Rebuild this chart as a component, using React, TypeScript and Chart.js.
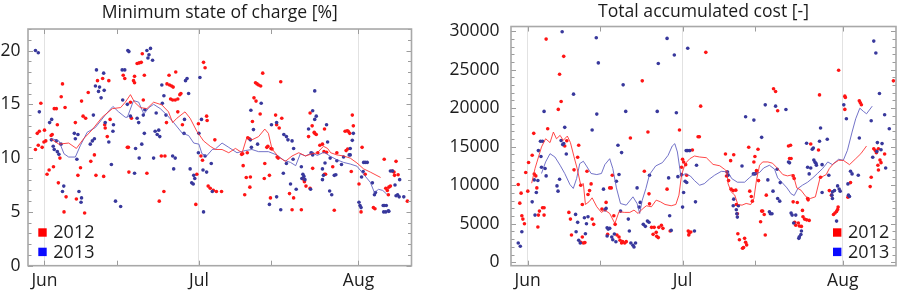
import React, { useEffect, useRef } from "react";
import { Chart, registerables } from "chart.js";

Chart.register(...registerables);

// ---------- shared axis data ----------
const dayRange = [-3.2, 71.3];
const monthTickDays = [0, 30, 61];
const monthLabels = ["Jun", "Jul", "Aug"];
const frameTickDays = [0, 14, 30, 44, 61];
const seriesLabels = ["2012", "2013"];
const socTicks = [0, 5, 10, 15, 20];
const costTicks = [0, 5000, 10000, 15000, 20000, 25000, 30000];

// ---------- Minimum state of charge [%]  (day offset from 1 Jun, value) ----------
const soc2012: [number, number][] = [
  [-1.75, 10.8], [-1.4, 12.3], [-1.0, 12.5], [-1.2, 11.2], [-0.7, 15.1], [-0.45, 11.0], [-0.1, 11.5], [0, 12.6], [0.25, 11.6], [0.5, 8.5],
  [0.9, 8.9], [1.3, 12.1], [1.5, 12.2], [1.75, 9.2], [1.9, 14.6], [2.3, 14.6], [2.5, 13.1], [2.7, 7.7], [3.0, 10.0], [3.25, 15.7],
  [3.5, 16.9], [4.0, 14.7], [4.2, 6.4], [3.8, 5.0], [6.0, 13.3], [6.2, 6.2], [6.5, 8.4], [7.0, 9.1], [7.2, 15.3], [7.5, 13.9],
  [8.0, 13.7], [7.8, 4.9], [8.5, 16.1], [9.0, 9.7], [9.7, 10.3], [10.0, 8.4], [10.3, 17.2], [11.3, 17.4], [11.5, 8.3], [11.7, 13.1],
  [11.8, 12.8], [12.2, 12.0], [12.5, 17.2], [12.75, 13.6], [15.3, 17.7], [15.6, 17.4],
  [16.1, 11.0], [16.3, 11.0], [16.4, 8.7], [16.7, 15.2], [16.9, 13.7], [17.3, 17.2], [17.5, 17.0], [17.5, 17.6], [18.0, 18.8], [18.4, 18.85],
  [18.8, 18.9], [19.0, 19.7], [19.2, 15.4], [19.4, 17.7], [19.9, 8.6], [22.3, 6.0], [22.7, 10.2], [23.2, 6.9], [23.4, 10.2], [23.7, 13.3],
  [23.8, 16.9], [24.2, 17.7], [24.3, 16.8], [24.5, 15.5], [24.7, 16.7], [24.9, 15.4], [25.0, 16.6], [25.4, 15.4], [25.5, 18.0], [25.9, 15.5],
  [25.9, 14.3], [26.3, 15.9], [26.5, 16.0], [26.8, 13.1], [29.4, 5.7], [29.6, 8.5], [29.9, 13.2], [30.4, 10.2], [30.7, 9.8], [30.9, 18.9],
  [31.2, 18.4], [31.5, 13.9], [31.6, 13.5], [31.8, 7.4], [32.2, 7.2], [32.8, 7.0], [33.1, 11.7], [33.4, 6.9],
  [34.4, 6.9], [38.3, 10.35], [38.5, 10.4], [38.6, 9.3], [38.9, 6.6], [39.2, 8.2], [39.4, 10.5], [39.5, 11.9], [39.8, 11.8], [39.9, 7.3],
  [40.0, 8.25], [40.4, 13.4], [40.7, 15.6], [41.0, 17.0], [41.1, 15.3], [41.3, 16.9], [41.6, 16.8], [41.9, 14.1], [42.0, 16.7], [42.4, 17.9],
  [42.7, 8.1], [42.8, 9.5], [43.2, 11.0], [43.4, 11.1], [43.7, 8.4], [43.9, 6.3], [44.0, 10.9], [44.2, 10.85], [44.9, 14.0], [45.1, 13.1],
  [45.2, 10.1], [45.4, 10.0], [45.6, 12.8], [45.9, 17.1], [46.1, 13.7], [47.6, 6.7], [48.1, 5.2], [48.4, 6.3], [49.9, 5.2], [50.4, 8.0],
  [50.5, 7.8], [50.8, 7.4], [51.3, 12.0], [51.6, 14.2], [51.6, 7.2], [52.0, 13.0], [52.1, 9.05], [52.4, 12.4],
  [52.5, 12.3], [52.8, 12.2], [53.1, 10.5], [53.5, 11.2], [54.0, 11.3], [54.3, 10.6], [54.4, 12.7], [54.4, 8.5], [54.6, 8.5], [54.8, 10.55],
  [56.0, 9.2], [56.3, 5.15], [56.8, 10.5], [58.4, 12.5], [58.6, 10.7], [58.8, 12.55], [58.9, 10.85], [59.0, 12.5], [59.3, 12.3], [59.6, 8.75],
  [59.8, 14.0], [60.0, 13.0], [61.1, 7.6], [61.5, 5.0], [61.7, 11.0], [62.3, 8.5], [63.9, 5.4], [64.2, 5.3], [66.0, 9.9], [66.3, 7.2],
  [66.6, 7.0], [66.8, 6.6], [66.9, 7.3], [67.2, 7.4], [67.6, 8.8], [67.9, 8.7], [68.0, 8.4], [68.3, 9.7], [68.7, 8.45], [70.5, 6.0],
];

const soc2013: [number, number][] = [
  [-1.75, 20.0], [-1.2, 19.8], [-1.0, 14.3], [1.0, 13.3], [1.4, 13.6], [1.35, 11.7], [1.7, 11.1], [1.9, 10.8], [2.3, 11.6], [2.5, 10.6],
  [2.8, 10.35], [3.2, 11.3], [3.5, 6.9], [3.75, 7.4], [5.8, 12.3], [6.0, 11.8], [6.3, 9.9], [6.5, 12.2], [6.7, 6.9], [7.1, 5.9],
  [7.2, 6.3], [8.9, 11.3], [9.3, 11.6], [9.5, 14.0], [9.7, 11.8], [9.9, 16.7], [10.1, 18.2], [10.5, 16.2], [10.7, 16.6], [11.0, 15.6],
  [11.5, 17.9], [11.6, 16.3], [11.8, 13.3], [12.5, 11.5], [13.0, 9.4], [13.3, 12.5], [13.4, 13.1], [13.8, 6.0], [14.8, 5.5], [15.1, 18.2],
  [15.2, 15.4], [15.6, 18.2],
  [16.1, 15.0], [16.2, 20.0], [16.4, 19.9], [16.7, 13.9], [17.5, 8.6], [17.7, 10.9], [18.0, 13.7], [18.3, 13.3], [18.4, 10.0], [18.9, 11.3],
  [19.2, 14.0], [19.4, 12.3], [19.5, 14.5], [19.9, 20.0], [20.1, 19.3], [20.3, 19.6], [20.6, 20.2], [21.0, 19.1], [21.2, 10.0], [21.5, 12.5],
  [21.7, 14.2], [21.9, 12.2], [22.2, 12.6], [22.4, 12.0], [22.8, 16.8], [22.9, 15.1], [23.2, 15.8], [23.6, 14.0], [24.9, 10.2], [25.1, 9.0],
  [25.4, 10.0], [27.1, 12.3], [27.2, 13.6], [27.4, 17.2], [27.7, 17.4], [28.0, 16.0], [28.3, 9.0], [28.6, 7.7], [28.9, 7.6], [29.0, 8.4],
  [29.2, 8.1], [29.9, 10.5], [30.0, 12.3], [30.2, 17.5], [30.5, 13.6], [30.8, 8.9], [30.9, 5.0], [31.2, 10.2], [31.5, 8.7], [32.4, 9.5],
  [32.6, 6.9],
  [40.0, 11.7], [40.1, 14.45], [40.2, 11.0], [40.6, 12.65], [41.4, 11.3], [42.1, 15.1], [43.7, 5.7], [44.1, 13.1], [45.1, 13.3], [45.1, 6.4],
  [45.9, 5.2], [46.4, 8.6], [46.5, 12.2], [47.0, 12.0], [47.0, 9.5], [47.3, 11.7], [47.8, 7.6], [48.1, 11.6], [48.3, 9.9], [48.4, 10.9],
  [48.9, 7.1], [49.9, 9.2], [50.0, 8.1], [50.2, 8.5], [50.4, 8.3], [50.6, 8.0], [51.3, 12.7], [51.7, 7.1], [51.8, 10.5], [52.0, 10.45],
  [52.1, 14.4], [52.1, 10.3], [52.5, 13.6], [52.5, 16.25], [52.8, 13.9],
  [54.0, 9.0], [54.0, 8.0], [54.2, 8.4], [54.5, 9.55], [54.8, 13.1], [55.0, 11.5], [55.4, 6.95], [55.5, 10.0], [55.8, 6.6], [56.3, 8.4],
  [56.6, 8.45], [56.8, 9.75], [57.7, 9.4], [58.1, 10.1], [59.2, 10.3], [59.4, 10.3], [59.4, 10.9], [59.8, 11.65], [60.0, 12.3], [61.1, 5.9],
  [61.3, 5.6], [61.5, 5.4], [61.6, 8.25], [61.9, 8.75], [62.0, 9.6], [62.3, 9.6], [62.7, 9.6], [63.7, 7.7], [64.1, 6.6], [64.3, 6.8],
  [65.8, 5.6], [65.9, 5.0], [66.0, 5.6], [66.3, 5.0], [66.4, 5.6], [66.8, 5.1], [66.9, 5.05], [67.2, 8.8], [67.6, 8.8], [68.1, 7.5],
  [68.3, 6.5], [68.6, 6.6], [68.9, 6.4], [69.0, 8.0], [69.8, 6.4],
];

const socAvg2012: [number, number][] = [
  [1.2, 11.8], [2.8, 11.3], [4.7, 11.4], [6.2, 10.9], [7.6, 11.8], [9.2, 12.6], [11.2, 13.8], [13.2, 14.6], [14.8, 14.7], [15.7, 15.2],
  [16.7, 15.9], [17.5, 15.2], [18.6, 14.7], [19.9, 14.6], [21.2, 15.2], [22.8, 14.95], [24.1, 14.3], [24.9, 13.3], [25.7, 13.7], [27.3, 14.3],
  [28.3, 13.7], [29.6, 12.5], [30.9, 11.6], [32.2, 11.1], [33.2, 10.8], [34.5, 10.8], [35.8, 10.5], [37.1, 10.9], [38.4, 10.5], [39.3, 11.9],
  [40.3, 11.7], [41.6, 12.0], [42.8, 12.7], [43.5, 12.3], [44.2, 10.85], [45.5, 10.1], [46.8, 9.7], [48.1, 10.2], [49.4, 10.5], [50.7, 10.2],
  [52.0, 10.4], [53.0, 10.5], [54.2, 11.1], [55.0, 10.9], [55.6, 10.5], [56.8, 10.3], [58.1, 10.2], [59.4, 10.0], [60.7, 9.55], [62.0, 9.0],
  [63.3, 8.7], [65.3, 8.2],
];

const socAvg2013: [number, number][] = [
  [1.5, 11.8], [2.8, 11.6], [3.8, 10.4], [4.7, 10.1], [6.0, 10.1], [7.0, 11.2], [8.3, 12.4], [9.9, 12.85], [11.8, 14.0], [13.3, 14.8],
  [14.4, 14.3], [15.7, 13.8], [16.1, 13.8], [17.3, 15.35], [18.3, 15.2], [19.3, 14.1], [20.3, 14.7], [21.2, 15.0], [22.5, 14.6], [23.8, 14.0],
  [25.1, 13.3], [26.8, 12.3], [28.0, 12.1], [29.0, 11.4], [30.0, 11.3], [30.6, 10.4], [31.5, 10.2], [32.6, 10.8], [33.2, 10.85], [34.5, 11.4],
  [35.8, 11.0], [37.4, 10.5], [39.0, 10.7], [40.3, 10.8], [41.6, 10.6], [43.5, 10.6], [45.1, 10.3], [46.5, 9.8], [47.8, 9.6], [48.8, 9.3],
  [49.7, 10.4], [50.7, 10.2], [52.0, 10.5], [53.0, 10.25], [54.3, 10.55], [55.6, 10.15], [56.8, 9.85], [58.1, 9.6], [59.4, 9.45], [60.7, 9.25],
  [62.0, 8.5], [63.3, 7.75], [64.1, 6.8], [64.9, 7.1], [65.7, 7.0], [66.5, 6.65],
];

// ---------- Total accumulated cost [-] ----------
const cost2012: [number, number][] = [
  [3.6, 28970], [7.0, 26730], [6.2, 24400], [6.5, 20870], [5.95, 19840], [3.9, 17330], [1.2, 16730], [0.9, 13880], [0.2, 12940], [-0.35, 11650],
  [-1.8, 10090], [-1.25, 8970], [-1.5, 7670], [0.05, 9230], [-1.1, 6030], [-0.9, 5600], [-0.6, 5000], [1.3, 11460], [1.6, 11210], [1.8, 9650],
  [2.9, 7070], [3.2, 7070], [2.3, 6640], [2.1, 6120], [3.2, 6120], [2.0, 4570], [7.6, 15770], [7.2, 15090], [9.9, 15180], [9.7, 13630],
  [9.0, 11990], [11.5, 11810], [10.3, 10000], [12.3, 10170], [12.0, 9300], [11.7, 8800], [10.6, 7490], [8.0, 6470], [8.3, 5600], [8.5, 3530],
  [10.6, 3270], [10.3, 2590], [10.8, 2500], [11.1, 2550], [12.5, 5600], [12.8, 4920], [14.4, 6900],
  [15.2, 7770], [15.5, 3620], [15.9, 9650], [16.2, 9650], [16.4, 11300], [16.7, 6030], [16.95, 4920], [17.3, 3530], [17.7, 3270], [17.9, 2850],
  [18.2, 2500], [18.4, 2670], [18.8, 2500], [19.1, 2670], [19.9, 16120], [22.2, 23550], [22.6, 11810], [23.3, 16900], [23.5, 8880], [23.6, 7580],
  [24.0, 4530], [24.3, 3620], [24.5, 4530], [24.9, 3880], [25.0, 3360], [25.3, 3200], [25.4, 4530], [25.9, 4790], [26.2, 4400], [27.0, 9490],
  [27.6, 4050], [29.4, 17160], [29.8, 12330], [30.0, 13370], [30.2, 13020], [30.6, 12670], [30.8, 11300], [31.1, 4050], [31.2, 3530], [31.3, 3790],
  [31.6, 3920], [31.9, 14570], [33.0, 16290],
  [33.25, 16290], [33.5, 20260], [34.5, 27250], [38.3, 14050], [38.5, 11200], [38.6, 11720], [38.9, 10600], [39.3, 13190], [39.4, 9490], [39.8, 9300],
  [39.9, 13960], [40.3, 9360], [40.4, 7490], [40.6, 6290], [40.7, 3700], [41.0, 2920], [41.6, 1810], [41.8, 1900], [42.0, 3100], [42.2, 2600],
  [42.4, 2250], [42.8, 14920], [43.0, 9230], [43.3, 8530], [43.5, 7930], [43.8, 13020], [44.0, 13720], [44.2, 11560], [44.3, 11890], [44.6, 14660],
  [44.7, 10600], [45.1, 5250], [45.3, 6640], [45.5, 6640], [45.8, 6200], [46.0, 3530], [46.2, 8710], [47.6, 22520], [48.0, 22170], [48.4, 19660],
  [50.5, 15090], [50.7, 13460], [51.0, 13460], [51.4, 11210], [51.4, 7840],
  [50.9, 15180], [51.6, 10870], [51.7, 5180], [51.9, 4800], [52.2, 7750], [52.4, 5100], [52.6, 4700], [53.0, 4650], [53.2, 6730], [53.3, 5900],
  [53.6, 5600], [54.0, 5500], [54.2, 8270], [54.3, 8100], [54.5, 5430], [54.8, 15350], [56.3, 14570], [56.5, 21720], [56.7, 11040], [58.4, 9300],
  [58.8, 8710], [59.2, 6200], [59.5, 6400], [59.8, 6600], [60.0, 6850], [60.1, 7160], [60.2, 24930], [61.4, 21560], [61.5, 21390], [61.4, 19840],
  [62.0, 8450], [62.5, 10340], [64.2, 20950], [64.4, 20700], [64.6, 20440], [66.3, 9820], [66.5, 11040], [67.0, 14740], [67.3, 14500], [67.5, 14220],
  [67.8, 12590], [67.9, 11980], [67.9, 14740], [68.2, 13280], [68.4, 12930], [69.1, 14050], [70.8, 23550],
];

const cost2013: [number, number][] = [
  [6.7, 29930], [13.3, 29150], [13.7, 25880], [8.9, 21820], [3.2, 19580], [13.4, 19230], [7.2, 17510], [12.5, 17160], [2.5, 15700], [2.9, 15700],
  [6.5, 15790], [6.8, 15270], [7.0, 15400], [2.1, 14490], [7.5, 14050], [2.6, 13720], [2.7, 12330], [3.4, 12160], [3.6, 11210], [1.3, 10690],
  [2.0, 10610], [6.2, 10780], [5.7, 9910], [5.9, 9230], [1.7, 9060], [0.9, 7840], [1.45, 6120], [-1.1, 3960], [-1.8, 2500], [-1.4, 2070],
  [9.3, 6210], [9.7, 5180], [9.4, 3960], [9.9, 2850], [10.2, 2500], [11.0, 5770], [11.7, 5900], [11.4, 5000], [11.2, 3700], [14.7, 9490],
  [15.0, 6800], [15.2, 6990], [15.4, 4480], [15.4, 3400], [15.6, 4300], [15.9, 4400], [16.3, 3280], [16.5, 2920], [16.8, 3670], [17.1, 2650],
  [17.2, 10520], [17.5, 15180], [17.7, 11390], [18.0, 6640], [18.2, 14230], [18.5, 23030], [19.0, 19580], [19.5, 5600], [19.7, 4050], [20.0, 2500],
  [20.4, 2200], [20.6, 1980], [20.9, 2500], [21.2, 9650], [21.6, 7160], [21.8, 7770], [22.4, 4920], [22.8, 4660], [23.2, 5340], [23.5, 5200],
  [23.6, 11300], [25.1, 19580], [25.3, 25790], [27.0, 29060], [27.3, 10950], [27.5, 6030], [27.8, 4130], [28.4, 26900], [28.8, 19410], [29.1, 11110],
  [29.8, 11380], [30.0, 7160], [30.2, 9050], [30.5, 10520], [30.7, 14490], [30.8, 10350], [31.0, 14490], [31.0, 27770], [31.4, 14490], [32.3, 4050],
  [32.5, 7840], [32.7, 12590],
  [38.7, 11700], [38.8, 11300], [39.8, 7330], [39.9, 8190], [40.4, 6810], [40.5, 6290], [40.6, 5860], [40.8, 7330], [41.5, 12500], [42.2, 18880],
  [43.7, 11470], [43.8, 18450], [44.0, 11470], [45.3, 16210], [46.0, 20430], [46.5, 10690], [46.8, 6550], [47.0, 6300], [47.3, 6290], [47.5, 9230],
  [48.0, 20260], [48.3, 12070], [48.4, 8270], [48.8, 7930], [48.9, 10340], [50.0, 19830], [50.5, 13020], [50.7, 12900], [51.0, 6380], [51.2, 6120],
  [51.5, 5090],
  [51.9, 6120], [52.5, 3100], [52.6, 3300], [52.9, 3600], [53.0, 4050], [54.0, 15440], [54.2, 12330], [54.5, 11470], [54.8, 12240], [55.1, 14660],
  [55.3, 14830], [55.4, 13280], [55.6, 13020], [55.8, 12850], [55.9, 12590], [56.5, 15700], [56.7, 17420], [57.0, 12670], [57.0, 9060], [58.0, 15960],
  [58.3, 11300], [58.9, 8710], [59.0, 9140], [59.0, 8270], [59.4, 9300], [59.8, 5340], [60.0, 9910], [60.3, 9500], [60.5, 9230], [61.2, 20430],
  [61.7, 18620], [62.0, 10170], [62.1, 8710], [62.3, 8540], [62.5, 11810], [62.8, 11470], [64.0, 11300], [64.2, 16120], [66.5, 18360], [66.8, 13630],
  [67.0, 28710], [67.4, 27160], [67.6, 14360], [67.7, 15530], [68.1, 21910], [68.4, 14600], [68.6, 15400], [69.1, 19140], [69.3, 12240], [70.0, 17330],
];

const costAvg2012: [number, number][] = [
  [0.8, 10260], [1.45, 12170], [2.7, 14960], [3.5, 16030], [4.35, 15530], [5.0, 16900], [5.6, 16030], [6.3, 16470], [6.9, 15820], [7.7, 16380],
  [8.3, 15530], [9.0, 13670], [9.6, 12170], [10.3, 10000], [10.8, 10210], [11.2, 7500], [11.9, 7850], [12.5, 8360], [13.4, 7200], [14.3, 6470],
  [14.96, 6770], [15.9, 6330], [16.9, 5030], [17.7, 6550], [18.8, 6470], [19.8, 6470], [20.6, 6770], [21.4, 6330], [22.2, 6900], [23.0, 7330],
  [23.97, 7200], [24.9, 8060], [25.7, 7850], [26.6, 7500], [27.8, 7330], [28.7, 7500], [29.3, 8710], [29.8, 11300], [30.5, 12800], [31.4, 13440],
  [32.3, 13790], [33.3, 13660], [34.6, 13570], [35.9, 12700], [37.2, 12520], [38.1, 12070], [38.6, 11780], [38.8, 10210], [39.4, 9140], [40.1, 8710],
  [40.7, 7490], [41.5, 7410], [42.3, 7630], [43.2, 7490], [43.8, 8270], [44.3, 10650], [44.9, 12590], [45.5, 13020], [46.5, 13020], [47.4, 12860],
  [48.4, 12170], [49.4, 11380], [50.3, 11210], [51.4, 11380], [52.1, 9650], [52.9, 9360], [53.9, 8490], [54.7, 8270], [55.7, 8490], [56.6, 10950],
  [57.8, 11380], [58.4, 12170], [59.2, 12800], [60.2, 13230], [61.1, 13230], [62.3, 12670], [63.5, 13440], [64.5, 14090], [65.6, 15090],
];

const costAvg2013: [number, number][] = [
  [2.7, 11520], [3.5, 13020], [4.35, 14090], [5.3, 13660], [6.3, 12590], [7.2, 11520], [8.2, 10090], [8.85, 9580], [9.5, 10870], [10.1, 12800],
  [10.8, 13110], [11.4, 12500], [12.3, 11520], [13.4, 11380], [14.3, 11520], [14.96, 12670], [15.9, 13440], [16.5, 12170], [17.2, 9650], [17.99, 7620],
  [19.1, 7410], [20.4, 8490], [21.2, 7620], [21.7, 6330], [22.2, 8060], [22.9, 9560], [23.6, 11380], [24.8, 12500], [26.1, 12930], [27.2, 13880],
  [28.0, 15090], [28.5, 15390], [29.0, 14310], [29.7, 11080], [30.5, 11500], [31.5, 11200], [32.3, 10600], [33.3, 10000], [34.2, 10200], [35.2, 10800],
  [36.2, 11300], [37.5, 11800], [38.8, 11730], [39.5, 10870], [40.6, 10390], [42.0, 10390], [42.9, 10950], [43.9, 11520], [44.9, 11650], [45.7, 12240],
  [46.8, 12590], [47.8, 12080], [48.4, 10950], [49.2, 10390], [50.2, 9650], [51.0, 8880], [51.6, 8660], [52.3, 9560], [53.2, 10000], [54.2, 10390],
  [55.2, 10950], [56.1, 11520], [57.1, 12170], [58.1, 13020], [59.0, 12670], [60.2, 13370], [61.1, 13230], [61.9, 14530], [62.8, 16900], [63.5, 18620],
  [64.3, 20000], [65.0, 19580], [65.6, 19270], [66.7, 20260],
];

// ---------- styling ----------
const FONT = '"Open Sans", "Noto Sans", sans-serif';
const TEXT = "#1c1c1c";
const RED_PT = "#ff1414";
const BLUE_PT = "#38389c";
const RED_LINE = "rgba(255,40,40,0.85)";
const BLUE_LINE = "rgba(90,90,190,0.85)";
const LEGEND_COLORS = ["#ff0000", "#0a0aff"];

type PanelSpec = {
  title: string;
  titlePad: { top: number; bottom: number };
  yMin: number;
  yMax: number;
  yTicks: number[];
  yMinor: number;
  yMajor: number;
  yWidth: number;
  yPad: number;
  padRight: number;
  pts2012: [number, number][];
  pts2013: [number, number][];
  avg2012: [number, number][];
  avg2013: [number, number][];
  legendLeft: (a: any) => number;
};

const toXY = (arr: [number, number][]) => arr.map(([x, y]) => ({ x, y }));

const framePlugin = {
  id: "frameTicks",
  afterDatasetsDraw(chart: any, _args: any, opts: any) {
    const { ctx, chartArea: a, scales } = chart;
    const xs = scales.x;
    const ys = scales.y;
    ctx.save();
    ctx.strokeStyle = "#9c9c9c";
    ctx.lineWidth = 1;
    ctx.beginPath();
    for (let v = 0; v <= ys.max + 1e-9; v += opts.minor) {
      const py = Math.round(ys.getPixelForValue(v)) + 0.5;
      const major = Math.abs(v / opts.major - Math.round(v / opts.major)) < 1e-6;
      const len = major ? 5 : 3.5;
      ctx.moveTo(a.left, py);
      ctx.lineTo(a.left + len, py);
      ctx.moveTo(a.right, py);
      ctx.lineTo(a.right - len, py);
    }
    for (const d of frameTickDays) {
      const px = Math.round(xs.getPixelForValue(d)) + 0.5;
      ctx.moveTo(px, a.top);
      ctx.lineTo(px, a.top + 5);
      ctx.moveTo(px, a.bottom);
      ctx.lineTo(px, a.bottom - 5);
    }
    ctx.stroke();
    ctx.strokeStyle = "#a8a8a8";
    ctx.lineWidth = 1.6;
    ctx.strokeRect(a.left, a.top, a.right - a.left, a.bottom - a.top);
    ctx.restore();
  },
};

const boxLegendPlugin = {
  id: "boxLegend",
  afterDraw(chart: any, _args: any, opts: any) {
    const { ctx, chartArea: a } = chart;
    const x0 = opts.left(a);
    ctx.save();
    ctx.font = `18px ${FONT}`;
    ctx.textBaseline = "middle";
    ctx.textAlign = "left";
    seriesLabels.forEach((label, i) => {
      const cy = a.bottom - 33.2 + i * 19.4;
      ctx.fillStyle = LEGEND_COLORS[i];
      ctx.fillRect(x0, cy - 4.2, 8.4, 8.4);
      ctx.fillStyle = TEXT;
      ctx.fillText(label, x0 + 15, cy + 0.5);
    });
    ctx.restore();
  },
};

function buildConfig(p: PanelSpec): any {
  const tickFont = { family: FONT, size: 17.5 };
  return {
    type: "scatter",
    data: {
      datasets: [
        {
          label: seriesLabels[0] + " mean",
          data: toXY(p.avg2012),
          showLine: true,
          borderColor: RED_LINE,
          borderWidth: 1,
          pointRadius: 0,
          order: 0,
        },
        {
          label: seriesLabels[1] + " mean",
          data: toXY(p.avg2013),
          showLine: true,
          borderColor: BLUE_LINE,
          borderWidth: 1,
          pointRadius: 0,
          order: 1,
        },
        {
          label: seriesLabels[1],
          data: toXY(p.pts2013),
          backgroundColor: BLUE_PT,
          borderWidth: 0,
          pointRadius: 1.8,
          order: 2,
        },
        {
          label: seriesLabels[0],
          data: toXY(p.pts2012),
          backgroundColor: RED_PT,
          borderWidth: 0,
          pointRadius: 1.8,
          order: 3,
        },
      ],
    },
    options: {
      animation: false,
      responsive: false,
      events: [],
      layout: { padding: { left: 0, right: p.padRight, top: 0, bottom: 0 } },
      plugins: {
        legend: { display: false },
        tooltip: { enabled: false },
        title: {
          display: true,
          text: p.title,
          fullSize: false,
          color: TEXT,
          font: { family: FONT, size: 17.6, weight: "normal", lineHeight: 1.2 },
          padding: p.titlePad,
        },
        frameTicks: { minor: p.yMinor, major: p.yMajor },
        boxLegend: { left: p.legendLeft },
      },
      scales: {
        x: {
          type: "linear",
          min: dayRange[0],
          max: dayRange[1],
          afterBuildTicks: (s: any) => {
            s.ticks = monthTickDays.map((v) => ({ value: v }));
          },
          afterFit: (s: any) => {
            s.height = 29.3;
          },
          ticks: {
            autoSkip: false,
            maxRotation: 0,
            padding: 5,
            color: TEXT,
            font: tickFont,
            callback: (v: number) => {
              const i = monthTickDays.indexOf(v);
              return i >= 0 ? monthLabels[i] : "";
            },
          },
          grid: { color: "#e2e2e2", lineWidth: 1, drawTicks: false },
          border: { display: false },
        },
        y: {
          type: "linear",
          min: p.yMin,
          max: p.yMax,
          afterBuildTicks: (s: any) => {
            s.ticks = p.yTicks.map((v) => ({ value: v }));
          },
          afterFit: (s: any) => {
            s.width = p.yWidth;
          },
          ticks: {
            padding: p.yPad,
            color: TEXT,
            font: tickFont,
            callback: (v: number) => String(v),
          },
          grid: { display: false, drawTicks: false },
          border: { display: false },
        },
      },
    },
    plugins: [framePlugin, boxLegendPlugin],
  };
}

const socPanel: PanelSpec = {
  title: "Minimum state of charge [%]",
  titlePad: { top: 2.8, bottom: 5.1 },
  yMin: 0,
  yMax: 22,
  yTicks: socTicks,
  yMinor: 1,
  yMajor: 5,
  yWidth: 28,
  yPad: 7.5,
  padRight: 38.5,
  pts2012: soc2012,
  pts2013: soc2013,
  avg2012: socAvg2012,
  avg2013: socAvg2013,
  legendLeft: (a: any) => a.left + 10.3,
};

const costPanel: PanelSpec = {
  title: "Total accumulated cost [-]",
  titlePad: { top: 1.3, bottom: 4.1 },
  yMin: -450,
  yMax: 30600,
  yTicks: costTicks,
  yMinor: 1000,
  yMajor: 5000,
  yWidth: 61,
  yPad: 11.5,
  padRight: 3,
  pts2012: cost2012,
  pts2013: cost2013,
  avg2012: costAvg2012,
  avg2013: costAvg2013,
  legendLeft: (a: any) => a.right - 63,
};

function Panel({ spec, left }: { spec: PanelSpec; left: number }) {
  const ref = useRef<HTMLCanvasElement | null>(null);
  useEffect(() => {
    if (!ref.current) return;
    const chart = new Chart(ref.current, buildConfig(spec));
    return () => chart.destroy();
  }, [spec]);
  return (
    <div style={{ position: "absolute", left, top: 0, width: 450, height: 295 }}>
      <canvas ref={ref} width={450} height={295} style={{ width: 450, height: 295, display: "block" }} />
    </div>
  );
}

export default function App() {
  return (
    <div style={{ position: "absolute", left: 0, top: 0, width: 900, height: 295, background: "#fff", overflow: "hidden" }}>
      <Panel spec={socPanel} left={0} />
      <Panel spec={costPanel} left={450} />
    </div>
  );
}
